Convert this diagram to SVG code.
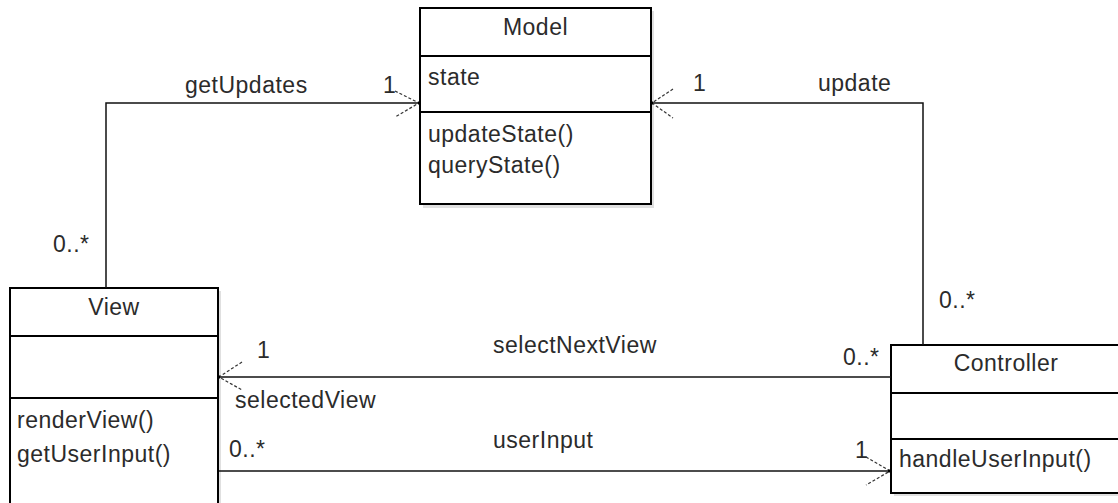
<svg xmlns="http://www.w3.org/2000/svg" width="1118" height="503" viewBox="0 0 1118 503">
  <style>
    text { font-family: "Liberation Sans", Arial, sans-serif; font-size: 23px; fill: #2b2b2b; letter-spacing: 0.5px; }
    .mid { text-anchor: middle; }
    .box { fill: #ffffff; stroke: #000000; stroke-width: 2; }
    .shadow { fill: #e0e0e0; }
    .div { stroke: #000000; stroke-width: 2; }
    .edge { fill: none; stroke: #111111; stroke-width: 1.5; }
    .head { fill: none; stroke: #333333; stroke-width: 1.2; stroke-dasharray: 3 2; }
    .dot { fill: #000000; }
  </style>

  <g id="Model">
    <rect class="shadow" x="423" y="11" width="231" height="197"/>
    <rect class="box" x="420" y="8" width="231" height="196"/>
    <line class="div" x1="420" y1="56" x2="651" y2="56"/>
    <line class="div" x1="420" y1="112" x2="651" y2="112"/>
    <text class="mid" x="535.5" y="35">Model</text>
    <text x="428" y="85">state</text>
    <text x="428" y="142">updateState()</text>
    <text x="428" y="173">queryState()</text>
  </g>

  <g id="View">
    <rect class="shadow" x="13" y="291" width="208" height="230"/>
    <rect class="box" x="10" y="288" width="208" height="230"/>
    <line class="div" x1="10" y1="336" x2="218" y2="336"/>
    <line class="div" x1="10" y1="398" x2="218" y2="398"/>
    <text class="mid" x="114" y="315">View</text>
    <text x="17" y="428">renderView()</text>
    <text x="17" y="462">getUserInput()</text>
  </g>

  <g id="Controller">
    <rect class="shadow" x="894" y="348" width="230" height="148"/>
    <rect class="box" x="891" y="345" width="230" height="148"/>
    <line class="div" x1="891" y1="393" x2="1121" y2="393"/>
    <line class="div" x1="891" y1="439" x2="1121" y2="439"/>
    <text class="mid" x="1006" y="371">Controller</text>
    <text x="899" y="467">handleUserInput()</text>
  </g>

  <g id="connectors">
    <!-- View -> Model : getUpdates -->
    <polyline class="edge" points="106,288 106,103 420,103"/>
    <polyline class="head" points="395,91 419,103 395,117"/>
    <rect class="dot" x="418" y="101.5" width="3" height="3"/>
    <text x="185" y="93">getUpdates</text>
    <text x="383" y="93">1</text>
    <text x="53" y="252">0..*</text>

    <!-- Controller -> Model : update -->
    <polyline class="edge" points="923,345 923,103 651,103"/>
    <polyline class="head" points="673,89 652,103 673,118"/>
    <rect class="dot" x="650" y="101.5" width="3" height="3"/>
    <text x="818" y="91">update</text>
    <text x="693" y="91">1</text>
    <text x="939" y="308">0..*</text>

    <!-- Controller -> View : selectNextView -->
    <line class="edge" x1="891" y1="377" x2="218" y2="377"/>
    <polyline class="head" points="242,362 219,377 242,390"/>
    <rect class="dot" x="217" y="375.5" width="3" height="3"/>
    <text x="493" y="353">selectNextView</text>
    <text x="257" y="358">1</text>
    <text x="235" y="408">selectedView</text>
    <text x="843" y="365">0..*</text>

    <!-- View -> Controller : userInput -->
    <line class="edge" x1="218" y1="471" x2="891" y2="471"/>
    <polyline class="head" points="866,457 890,471 866,485"/>
    <rect class="dot" x="217" y="470" width="2" height="2"/>
    <rect class="dot" x="888" y="469.5" width="3" height="3"/>
    <text x="493" y="448">userInput</text>
    <text x="229" y="457">0..*</text>
    <text x="855" y="458">1</text>
  </g>
</svg>
